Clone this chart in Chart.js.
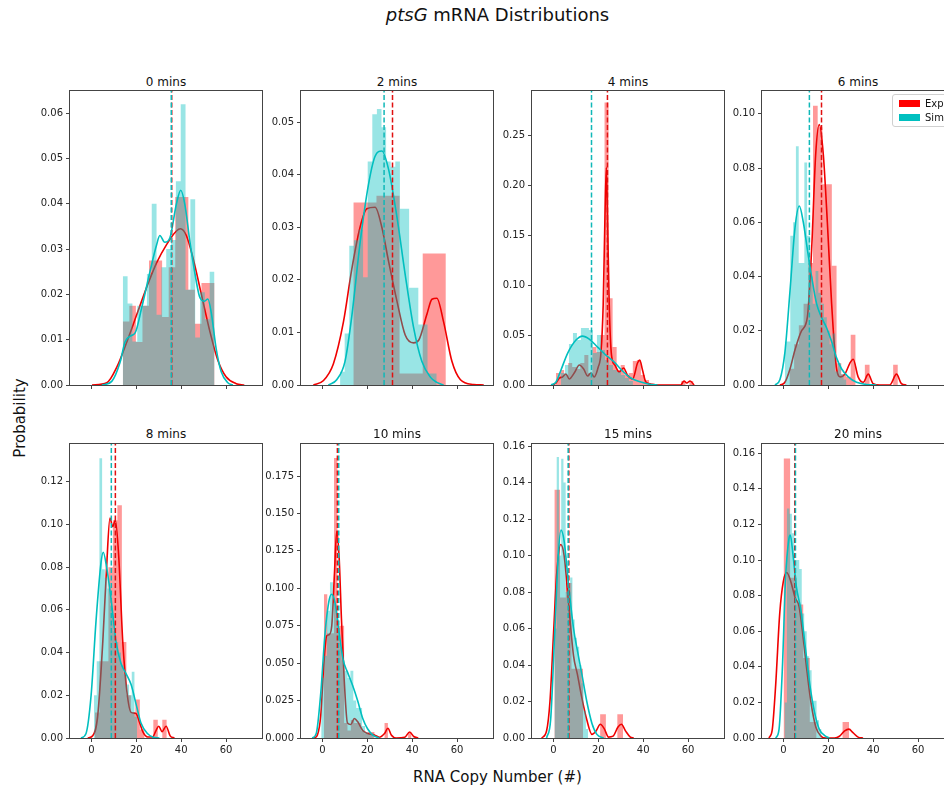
<!DOCTYPE html>
<html>
<head>
<meta charset="utf-8">
<script src="https://cdn.jsdelivr.net/npm/chart.js@4.4.1/dist/chart.umd.min.js"></script>
<style>
  html, body { margin: 0; padding: 0; width: 944px; height: 792px; overflow: hidden; background: #fff; }
  body { position: relative; font-family: "DejaVu Sans", sans-serif; color: #111; }
  canvas, .lbl { position: absolute; }
  .ptitle { font-size: 12px; line-height: 14px; text-align: center; width: 192px; }
  .legend { position: absolute; left: 892px; top: 94px; width: 90px; height: 31px; border: 1px solid #d0d0d0; border-radius: 3px; background: rgba(255,255,255,0.85); font-size: 10px; }
  .legend .row { position: absolute; left: 6px; height: 12px; line-height: 12px; white-space: nowrap; }
  .legend .sw { display: inline-block; width: 21px; height: 7px; vertical-align: middle; margin-right: 5px; position: relative; top: -1px; }
</style>
</head>
<body>
<div class="lbl" style="left:0;width:995px;top:4px;text-align:center;font-size:18px;line-height:22px;"><i>ptsG</i> mRNA Distributions</div>
<div class="lbl" style="left:-40px;top:409px;width:120px;text-align:center;font-size:15px;line-height:18px;transform:rotate(-90deg);">Probability</div>
<div class="lbl" style="left:0;width:995px;top:768px;text-align:center;font-size:15px;line-height:18px;">RNA Copy Number (#)</div>
<div id="fig"></div>
<script>
// panel titles and axes
const panelTitles = ['0 mins', '2 mins', '4 mins', '6 mins', '8 mins', '10 mins', '15 mins', '20 mins'];
const xTicks = [0, 20, 40, 60];
const yMax = [0.0649, 0.0559, 0.2945, 0.1084, 0.1377, 0.1964, 0.1611, 0.1652];
const yTicks = [
  [0, 0.01, 0.02, 0.03, 0.04, 0.05, 0.06],
  [0, 0.01, 0.02, 0.03, 0.04, 0.05],
  [0, 0.05, 0.10, 0.15, 0.20, 0.25],
  [0, 0.02, 0.04, 0.06, 0.08, 0.10],
  [0, 0.02, 0.04, 0.06, 0.08, 0.10, 0.12],
  [0, 0.025, 0.05, 0.075, 0.10, 0.125, 0.15, 0.175],
  [0, 0.02, 0.04, 0.06, 0.08, 0.10, 0.12, 0.14, 0.16],
  [0, 0.02, 0.04, 0.06, 0.08, 0.10, 0.12, 0.14, 0.16]
];
const yDecimals = [2, 2, 2, 2, 2, 3, 2, 2];

// experiment histograms (first bin edge, bin width, bar heights)
const expBinStart = [14.0, 13.8, 1.2, 2.7, 1.6, 0.7, 0.45, 0.1];
const expBinWidth = [2.92, 10.3, 1.8, 2.1, 2.0, 1.5, 2.55, 2.92];
const expHeights = [
  [0.014, 0.0175, 0.0095, 0.0175, 0.0275, 0.0275, 0.015, 0.026, 0.0415, 0.0415, 0.021, 0.0135, 0.0225, 0.0225],
  [0.0347, 0.036, 0.0022, 0.025],
  [0.012, 0.015, 0.010, 0.022, 0.018, 0.016, 0.022, 0.030, 0.012, 0.038, 0.033, 0.050, 0.283, 0.087, 0.038, 0.015, 0.020, 0.010, 0.012, 0.024, 0.025, 0.010, 0.005, 0, 0, 0, 0, 0, 0, 0, 0, 0.004, 0, 0.004],
  [0.006, 0.015, 0.022, 0.030, 0.045, 0.103, 0.095, 0.074, 0.074, 0.044, 0.008, 0.004, 0.003, 0.0185, 0, 0, 0.0075, 0, 0, 0, 0, 0, 0.0075],
  [0.012, 0.036, 0.036, 0.08, 0.102, 0.109, 0.045, 0.02, 0.012, 0.018, 0.004, 0, 0, 0.0085, 0, 0.0085],
  [0.096, 0.07, 0.07, 0.187, 0.075, 0.075, 0.01, 0.005, 0.012, 0.01, 0.01, 0.005, 0.003, 0.004, 0.004, 0, 0, 0, 0.01, 0, 0, 0, 0, 0, 0, 0.004],
  [0.136, 0.077, 0.085, 0.038, 0.038, 0, 0, 0, 0.013, 0, 0, 0.013],
  [0.157, 0.09, 0.075, 0.045, 0.009, 0, 0, 0, 0, 0.009]
];

// simulation histograms
const simBinStart = [14.0, 7.9, 3.4, 0.6, 1.2, -0.5, 0.5, 0.5];
const simBinWidth = [2.15, 2.05, 1.78, 1.25, 1.2, 1.3, 1.0, 1.1];
const simHeights = [
  [0.024, 0.018, 0.0096, 0.0175, 0.0175, 0.0245, 0.040, 0.0155, 0.026, 0.030, 0.032, 0.045, 0.062, 0.021, 0.041, 0.0105, 0.0205, 0.0145, 0.025],
  [0.0025, 0.0098, 0.0265, 0.0275, 0.0295, 0.0205, 0.0425, 0.0515, 0.0525, 0.049, 0.0425, 0.0415, 0.0425, 0.0335, 0.0335, 0.0185, 0.0185, 0.0115, 0.0115, 0.0022, 0.0022],
  [0.012, 0.02, 0.041, 0.052, 0.045, 0.057, 0.057, 0.055, 0.032, 0.05, 0.035, 0.025, 0.02, 0.015, 0.013, 0.01, 0.007, 0.004],
  [0.016, 0.016, 0.055, 0.06, 0.088, 0.045, 0.045, 0.082, 0.055, 0.04, 0.03, 0.042, 0.034, 0.03, 0.025, 0.02, 0.015, 0.019, 0.005, 0.008, 0.004, 0.002],
  [0.02, 0.036, 0.131, 0.079, 0.075, 0.07, 0.06, 0.05, 0.045, 0.04, 0.034, 0.03, 0.025, 0.02, 0.031, 0.01],
  [0.04, 0.055, 0.085, 0.104, 0.09, 0.08, 0.06, 0.052, 0.045, 0.04, 0.045, 0.025, 0.02, 0.02, 0.008, 0.004, 0.003, 0.003],
  [0.06, 0.154, 0.10, 0.153, 0.14, 0.08, 0.08, 0.088, 0.065, 0.055, 0.05, 0.04, 0.03, 0.015, 0.005],
  [0.02, 0.129, 0.126, 0.115, 0.1, 0.1, 0.095, 0.07, 0.06, 0.046, 0.038, 0.021, 0.021, 0.01, 0.005]
];

// density curves
const expKdeX = [
  [0.3, 6.9, 11.4, 15.8, 20.2, 24.6, 29.1, 33.5, 37.9, 39.7, 42.3, 45.3, 49, 52.7, 56.3, 60, 64.5, 68.1],
  [-4, 0.4, 4.9, 9.4, 13.1, 16.8, 19.8, 23.5, 26.5, 29.5, 33.2, 36.9, 40.6, 42.9, 46.6, 48.8, 51, 54, 57.7, 61.5, 67.4, 71.9],
  [-0.3, 1.2, 2.7, 4.1, 5.6, 7.1, 9.3, 11.6, 13.5, 15.3, 16.7, 18.2, 20, 21.2, 22.2, 23, 23.6, 24.1, 24.9, 25.9, 27.4, 29.3, 31.3, 33, 35.3, 37.5, 38.5, 39.7, 41.2, 43.4, 46.4, 56.7, 58.2, 59.4, 60.9, 62.7],
  [-1.5, 0.7, 3, 5.2, 8.1, 10.7, 12.6, 14.4, 16, 17.8, 19.6, 21.5, 23.7, 25.5, 27.4, 29.6, 31.1, 33.3, 35.6, 37.8, 40, 43, 47.4, 50.4, 52.6, 54.8],
  [-1.6, 0.6, 2.8, 5.1, 6.8, 8.3, 9.5, 10.7, 12.2, 14, 15.8, 17.7, 19.9, 21.1, 22.9, 25.1, 27.3, 28.8, 30, 31.5, 33.3, 35.1, 37],
  [-3.7, -2.2, -0.7, 0.7, 1.9, 3, 4.2, 5.4, 6.4, 7.5, 8.5, 9.7, 11.2, 12.7, 14.2, 15.7, 18, 20.2, 23.2, 25.4, 27.7, 29.2, 30.7, 32.9, 36.7, 38.9, 40.7, 42.7],
  [-5.2, -3, -1.5, 0, 1.5, 3.3, 4.8, 6.7, 9, 10.7, 12.7, 14.9, 17.2, 19.1, 20.9, 22.7, 24.6, 26.6, 28.8, 30.3, 32.1, 34.3, 35.8],
  [-6.4, -4.9, -3.4, -1.6, 0, 1.5, 3.3, 5.2, 7, 8.5, 10.3, 12.3, 14.5, 16.8, 19, 22.8, 25, 27.3, 29.2, 31, 33.3, 35.5]
];
const expKdeY = [
  [0, 0.0005, 0.004, 0.0095, 0.0155, 0.0215, 0.027, 0.031, 0.034, 0.0345, 0.033, 0.028, 0.020, 0.012, 0.0055, 0.0018, 0.0003, 0],
  [0, 0.0008, 0.004, 0.012, 0.022, 0.030, 0.0335, 0.0338, 0.030, 0.0235, 0.016, 0.0095, 0.008, 0.0085, 0.0135, 0.0163, 0.0165, 0.012, 0.0045, 0.001, 0.0001, 0],
  [0, 0.002, 0.007, 0.008, 0.011, 0.006, 0.012, 0.02, 0.016, 0.009, 0.012, 0.008, 0.018, 0.032, 0.08, 0.17, 0.218, 0.17, 0.08, 0.03, 0.02, 0.013, 0.017, 0.01, 0.006, 0.022, 0.025, 0.015, 0.003, 0.001, 0, 0, 0.004, 0.002, 0.004, 0],
  [0, 0.001, 0.006, 0.013, 0.02, 0.025, 0.05, 0.085, 0.096, 0.085, 0.06, 0.03, 0.006, 0.003, 0.004, 0.008, 0.0095, 0.003, 0.001, 0.004, 0.0005, 0, 0, 0.004, 0.0005, 0],
  [0, 0.001, 0.01, 0.045, 0.08, 0.103, 0.099, 0.102, 0.085, 0.045, 0.022, 0.012, 0.0115, 0.0085, 0.003, 0.0005, 0.0005, 0.0035, 0.0055, 0.003, 0.0055, 0.001, 0],
  [0, 0.002, 0.015, 0.05, 0.068, 0.069, 0.075, 0.11, 0.138, 0.12, 0.08, 0.04, 0.01, 0.009, 0.013, 0.011, 0.005, 0.003, 0.002, 0.0005, 0.003, 0.0065, 0.002, 0, 0.0005, 0.004, 0.001, 0],
  [0, 0.004, 0.02, 0.055, 0.09, 0.106, 0.1, 0.075, 0.045, 0.035, 0.022, 0.01, 0.002, 0.004, 0.0075, 0.005, 0.0005, 0.001, 0.006, 0.0075, 0.004, 0.0005, 0],
  [0, 0.005, 0.03, 0.07, 0.088, 0.093, 0.088, 0.079, 0.074, 0.06, 0.04, 0.02, 0.006, 0.001, 0, 0, 0.001, 0.004, 0.005, 0.003, 0.0005, 0]
];
const simKdeX = [
  [4.7, 9.1, 12.8, 15.0, 17.3, 19.5, 22.4, 26.1, 29.1, 30.5, 32.7, 35, 37.9, 39.8, 41.6, 43.8, 46, 48.2, 50.4, 51.9, 53.4, 55.6, 57.8, 60.8, 63],
  [2.7, 6.4, 10.1, 13.1, 16.8, 20.5, 23.5, 26.5, 29.5, 33.2, 36.9, 40.6, 44.3, 48.1, 51, 54],
  [-1, 1.2, 3.4, 6.4, 10.1, 13, 16, 19.7, 23.4, 27.1, 30.8, 34.5, 39, 43.4, 46.4],
  [-3.7, -1.5, 0.7, 3, 5.2, 7.1, 8.9, 10.7, 12.6, 14.8, 17, 19.3, 21.5, 23.7, 25.9, 28.9, 32.6, 37, 41.5],
  [-4.6, -2.4, -0.1, 2.1, 4.3, 5.3, 6.8, 8.8, 11, 13.2, 15.5, 17.7, 19.9, 22.1, 25.1, 27.3, 30.3],
  [-4.5, -2.7, -0.7, 1.2, 3, 4.2, 5.7, 7.5, 9.3, 11.2, 13.5, 15.7, 18, 20.2, 22.5, 25.4],
  [-3, -1.2, 0.7, 2.2, 3.4, 4.8, 6.7, 9, 10.7, 12.7, 14.9, 17.2, 19.4, 22.4],
  [-3.4, -1.9, -0.4, 1, 2.5, 3.1, 4.3, 5.8, 7.8, 9.7, 11.8, 13.8, 16, 18.3, 20.5]
];
const simKdeY = [
  [0, 0.0008, 0.005, 0.0095, 0.0108, 0.0115, 0.017, 0.025, 0.031, 0.033, 0.0315, 0.0325, 0.040, 0.043, 0.040, 0.032, 0.025, 0.0195, 0.0185, 0.019, 0.016, 0.008, 0.003, 0.0005, 0],
  [0, 0.001, 0.0045, 0.013, 0.027, 0.038, 0.0435, 0.0445, 0.041, 0.032, 0.021, 0.011, 0.0045, 0.0015, 0.0005, 0],
  [0, 0.003, 0.015, 0.032, 0.045, 0.049, 0.046, 0.038, 0.030, 0.023, 0.014, 0.007, 0.003, 0.0005, 0],
  [0, 0.002, 0.012, 0.035, 0.058, 0.066, 0.06, 0.05, 0.04, 0.03, 0.025, 0.021, 0.016, 0.01, 0.006, 0.003, 0.001, 0.0002, 0],
  [0, 0.002, 0.02, 0.055, 0.082, 0.087, 0.08, 0.065, 0.045, 0.035, 0.03, 0.025, 0.016, 0.007, 0.002, 0.0005, 0],
  [0, 0.003, 0.03, 0.07, 0.092, 0.096, 0.09, 0.07, 0.052, 0.044, 0.035, 0.025, 0.013, 0.006, 0.002, 0],
  [0, 0.01, 0.06, 0.1, 0.114, 0.108, 0.085, 0.06, 0.048, 0.035, 0.02, 0.008, 0.002, 0],
  [0, 0.005, 0.04, 0.09, 0.112, 0.114, 0.103, 0.085, 0.072, 0.052, 0.03, 0.015, 0.005, 0.0015, 0]
];

// means (dashed vertical lines)
const expMean = [35.8, 31.25, 24.1, 17.0, 10.7, 6.7, 6.9, 5.1];
const simMean = [35.6, 27.5, 17.0, 11.6, 8.9, 7.3, 6.6, 5.4];

// layout
const PLOT_LEFT = [70, 301, 532, 762];
const PLOT_TOP = [91, 444];
const PLOT_W = 192, PLOT_H = 294;
const PAD_L = 52, PAD_T = 12, PAD_R = 6, PAD_B = 22;
const FONT = 'DejaVu Sans';

function histPoints(start, width, heights) {
  const pts = heights.map((h, i) => ({ x: start + i * width, y: h }));
  pts.push({ x: start + heights.length * width, y: heights[heights.length - 1] });
  return pts;
}

function curvePoints(xs, ys) {
  return xs.map((x, i) => ({ x: x, y: ys[i] }));
}

// axes frame drawn on top like matplotlib spines
const framePlugin = {
  id: 'frame',
  afterDatasetsDraw(chart) {
    const { ctx, chartArea: a } = chart;
    ctx.save();
    ctx.strokeStyle = '#444';
    ctx.lineWidth = 1;
    ctx.strokeRect(Math.round(a.left) - 0.5, Math.round(a.top) - 0.5, Math.round(a.right - a.left) + 1, Math.round(a.bottom - a.top) + 1);
    ctx.restore();
  }
};

const fig = document.getElementById('fig');

panelTitles.forEach((title, p) => {
  const row = Math.floor(p / 4);
  const col = p % 4;

  const t = document.createElement('div');
  t.className = 'lbl ptitle';
  t.style.left = PLOT_LEFT[col] + 'px';
  t.style.top = (PLOT_TOP[row] - (row === 0 ? 16 : 17)) + 'px';
  t.textContent = title;
  fig.appendChild(t);

  const canvas = document.createElement('canvas');
  canvas.width = PAD_L + PLOT_W + PAD_R;
  canvas.height = PAD_T + PLOT_H + PAD_B;
  canvas.style.left = (PLOT_LEFT[col] - PAD_L) + 'px';
  canvas.style.top = (PLOT_TOP[row] - PAD_T) + 'px';
  fig.appendChild(canvas);

  const datasets = [
    {
      data: histPoints(expBinStart[p], expBinWidth[p], expHeights[p]),
      stepped: true, fill: 'origin',
      backgroundColor: 'rgba(255,0,0,0.4)', borderColor: 'rgba(0,0,0,0)', borderWidth: 0,
      pointRadius: 0, order: 6
    },
    {
      data: curvePoints(expKdeX[p], expKdeY[p]),
      borderColor: '#f00000', borderWidth: 1.6, fill: false,
      cubicInterpolationMode: 'monotone', pointRadius: 0, order: 5
    },
    {
      data: histPoints(simBinStart[p], simBinWidth[p], simHeights[p]),
      stepped: true, fill: 'origin',
      backgroundColor: 'rgba(0,191,191,0.4)', borderColor: 'rgba(0,0,0,0)', borderWidth: 0,
      pointRadius: 0, order: 4
    },
    {
      data: curvePoints(simKdeX[p], simKdeY[p]),
      borderColor: '#00bfbf', borderWidth: 1.6, fill: false,
      cubicInterpolationMode: 'monotone', pointRadius: 0, order: 3
    },
    {
      data: [{ x: expMean[p], y: 0 }, { x: expMean[p], y: yMax[p] }],
      borderColor: '#e01010', borderWidth: 1.5, borderDash: [5, 2.5], fill: false,
      pointRadius: 0, order: 2
    },
    {
      data: [{ x: simMean[p], y: 0 }, { x: simMean[p], y: yMax[p] }],
      borderColor: '#10b8b8', borderWidth: 1.5, borderDash: [5, 2.5], fill: false,
      pointRadius: 0, order: 1
    }
  ];

  new Chart(canvas.getContext('2d'), {
    type: 'line',
    data: { datasets: datasets },
    plugins: [framePlugin],
    options: {
      responsive: false,
      animation: false,
      events: [],
      layout: { padding: { top: PAD_T, right: PAD_R, left: 0, bottom: 0 } },
      plugins: { legend: { display: false }, tooltip: { enabled: false } },
      scales: {
        x: {
          type: 'linear', min: -9.5, max: 76,
          afterBuildTicks: s => { s.ticks = xTicks.map(v => ({ value: v })); },
          afterFit: s => { s.height = PAD_B; },
          ticks: {
            callback: v => (row === 1 ? String(v) : ''),
            font: { size: 10, family: FONT }, color: '#222', padding: 2,
            maxRotation: 0, autoSkip: false
          },
          grid: { drawOnChartArea: false, drawTicks: true, tickLength: 4, color: '#444' },
          border: { display: false }
        },
        y: {
          type: 'linear', min: 0, max: yMax[p],
          afterBuildTicks: s => { s.ticks = yTicks[p].map(v => ({ value: v })); },
          afterFit: s => { s.width = PAD_L; },
          ticks: {
            callback: v => v.toFixed(yDecimals[p]),
            font: { size: 10, family: FONT }, color: '#222', padding: 3, autoSkip: false
          },
          grid: { drawOnChartArea: false, drawTicks: true, tickLength: 4, color: '#444' },
          border: { display: false }
        }
      }
    }
  });
});
</script>
<div class="legend">
  <div class="row" style="top:3px;"><span class="sw" style="background:#ff0000;"></span>Experiment</div>
  <div class="row" style="top:17px;"><span class="sw" style="background:#00bfbf;"></span>Simulation</div>
</div>
</body>
</html>
